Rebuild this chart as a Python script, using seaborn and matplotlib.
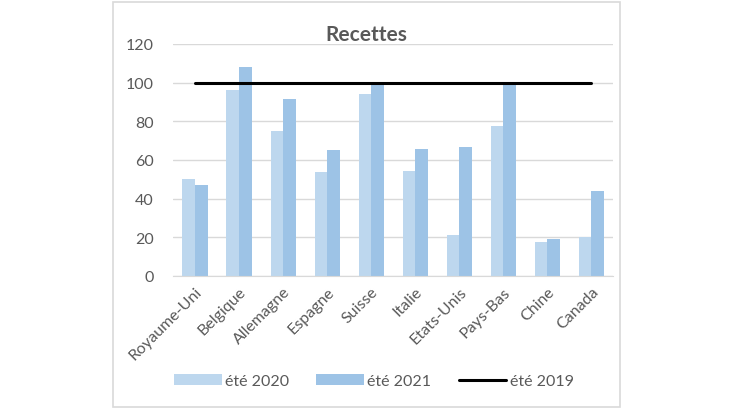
import numpy as np
import pandas as pd
import matplotlib.pyplot as plt
import seaborn as sns
from matplotlib.patches import Patch, Rectangle
from matplotlib.lines import Line2D

pays = ['Royaume-Uni', 'Belgique', 'Allemagne', 'Espagne', 'Suisse',
        'Italie', 'Etats-Unis', 'Pays-Bas', 'Chine', 'Canada']
ete_2020 = [50, 96, 75, 54, 94, 54.5, 21, 77.5, 17.5, 20]
ete_2021 = [47, 108, 91.5, 65, 100, 65.5, 66.5, 100, 19, 44]
ete_2019 = [100] * len(pays)

col_2020 = '#BDD7EE'
col_2021 = '#9DC3E6'
gris = '#595959'

def build_frame():
    df = pd.DataFrame({'pays': pays * 2,
                       'valeur': ete_2020 + ete_2021,
                       'serie': ['été 2020'] * len(pays) + ['été 2021'] * len(pays)})
    return df

def main():
    sns.set_style('white')
    plt.rcParams['font.family'] = ['Lato', 'DejaVu Sans']

    df = build_frame()
    fig = plt.figure(figsize=(7.3, 4.1), dpi=100)
    ax = fig.add_axes([0.237, 0.3244, 0.603, 0.5659])

    sns.barplot(data=df, x='pays', y='valeur', hue='serie', order=pays,
                palette=[col_2020, col_2021], width=0.57, gap=0,
                linewidth=0, saturation=1, legend=False, ax=ax)
    sns.lineplot(x=np.arange(len(pays)), y=ete_2019, color='black',
                 linewidth=2.2, ax=ax)

    ax.set_xlim(-0.5, len(pays) - 0.5)
    ax.set_ylim(0, 120)
    ax.set_yticks(range(0, 121, 20))
    ax.yaxis.grid(True, color='#D9D9D9', linewidth=1)
    ax.set_axisbelow(True)
    for s in ['left', 'right', 'top']:
        ax.spines[s].set_visible(False)
    ax.spines['bottom'].set_color('#D9D9D9')
    ax.tick_params(axis='both', length=0, colors=gris, labelsize=11.5)
    ax.tick_params(axis='y', pad=14)
    ax.set_xticks(range(len(pays)))
    ax.set_xticklabels(pays, rotation=45, ha='right', rotation_mode='anchor')
    ax.tick_params(axis='x', pad=6)
    ax.set_xlabel('')
    ax.set_ylabel('')

    fig.text(0.502, 1 - 35 / 410, 'Recettes', ha='center', va='center',
             fontsize=15, fontweight='bold', color=gris)

    # cadre autour du graphique
    fig.patches.append(Rectangle((113 / 730, 2 / 410), 507 / 730, 405 / 410,
                                 transform=fig.transFigure, fill=False,
                                 edgecolor='#D9D9D9', linewidth=1.2))

    handles = [Patch(facecolor=col_2020, edgecolor='none'),
               Patch(facecolor=col_2021, edgecolor='none'),
               Line2D([], [], color='black', linewidth=2.2)]
    fig.legend(handles, ['été 2020', 'été 2021', 'été 2019'], loc='center',
               bbox_to_anchor=(0.512, 1 - 382 / 410), ncol=3, frameon=False,
               handlelength=3.0, handleheight=0.7, columnspacing=1.7,
               handletextpad=0.2, fontsize=11.5, labelcolor=gris)

    fig.savefig('out.png', dpi=100)
    plt.close(fig)

if __name__ == "__main__":
    main()
